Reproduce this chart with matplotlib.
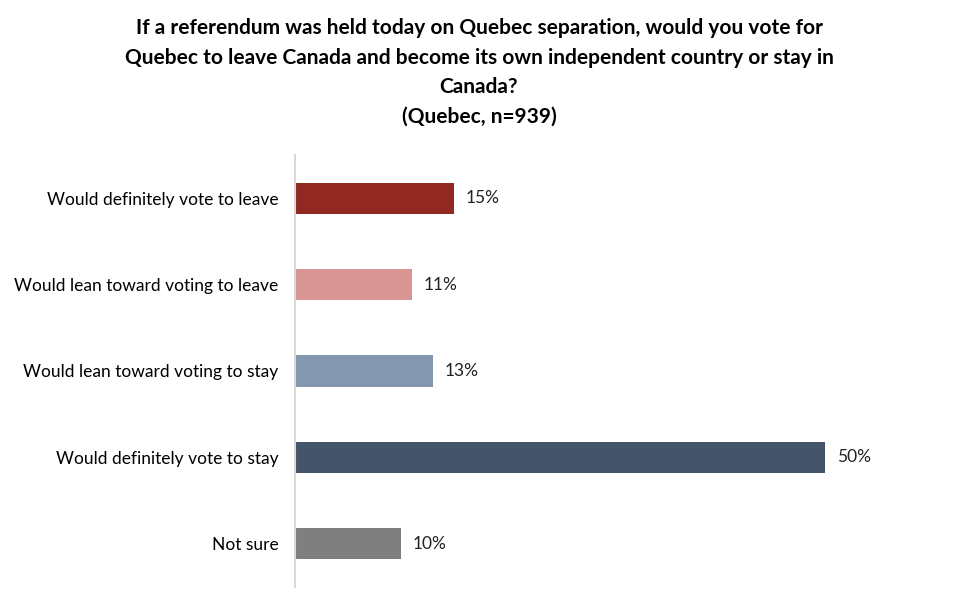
import matplotlib.pyplot as plt

# survey answers, top to bottom
categories = ['Would definitely vote to leave', 'Would lean toward voting to leave',
              'Would lean toward voting to stay', 'Would definitely vote to stay', 'Not sure']
values = [15, 11, 13, 50, 10]
colors = ['#922822', '#d99594', '#8497b0', '#44546a', '#7f7f7f']

title = ('If a referendum was held today on Quebec separation, would you vote for\n'
         'Quebec to leave Canada and become its own independent country or stay in\n'
         'Canada?\n(Quebec, n=939)')

plt.rcParams['font.family'] = ['Lato', 'DejaVu Sans']

fig = plt.figure(figsize=(9.59, 6.11), dpi=100)
ax = fig.add_axes([295 / 959, 1 - 587 / 611, (905 - 295) / 959, (587 - 155) / 611])

ypos = list(range(len(categories)))
ax.barh(ypos, values, height=0.36, color=colors)
for y, v in zip(ypos, values):
    ax.text(v + 1.1, y, f'{v}%', va='center', ha='left', fontsize=12.5, color='#222222')

ax.set_ylim(len(categories) - 0.5, -0.5)
ax.set_xlim(0, (905 - 295) / 10.6)
ax.set_yticks(ypos)
ax.set_yticklabels(categories, fontsize=12.5)
ax.tick_params(axis='y', length=0, pad=12)
ax.set_xticks([])
for s in ['top', 'right', 'bottom']:
    ax.spines[s].set_visible(False)
ax.spines['left'].set_color('#d9d9d9')
ax.spines['left'].set_linewidth(1.5)

fig.text(479 / 959, 1 - 18 / 611, title, ha='center', va='top', fontsize=15,
         fontweight='bold', linespacing=1.6)

fig.savefig('out.png', dpi=100)
